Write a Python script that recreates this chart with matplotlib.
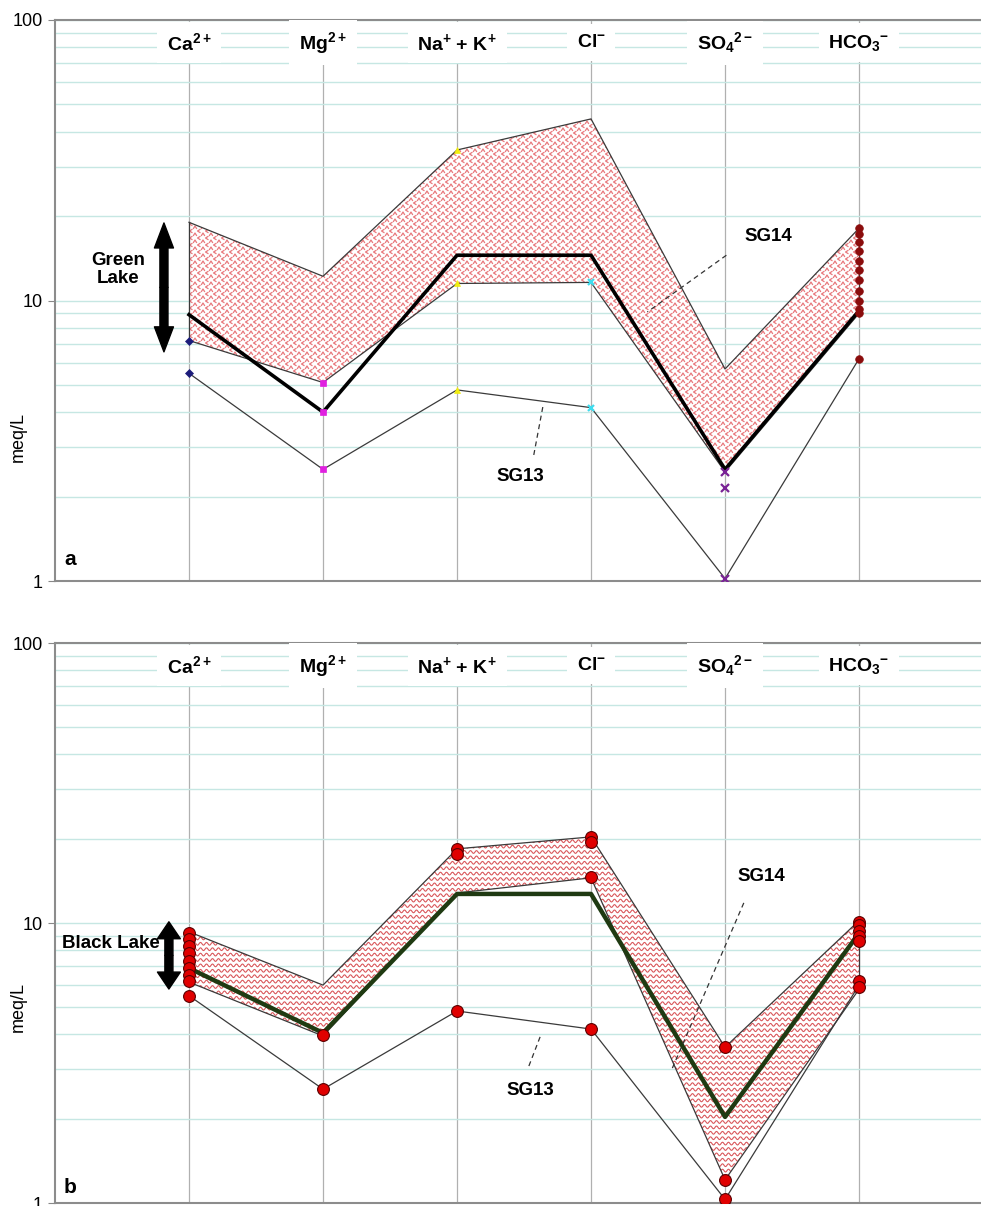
import numpy as np
import matplotlib
matplotlib.use('Agg')
import matplotlib.pyplot as plt
from matplotlib.patches import Polygon
from matplotlib.collections import LineCollection
from matplotlib.ticker import NullFormatter

plt.rcParams['font.family'] = ['Liberation Sans', 'DejaVu Sans']
plt.rcParams['mathtext.fontset'] = 'custom'
plt.rcParams['mathtext.rm'] = 'Liberation Sans'
plt.rcParams['mathtext.bf'] = 'Liberation Sans:bold'
plt.rcParams['mathtext.default'] = 'bf'

# ---- data (meq/L) ----
ions = ['Ca$^{2+}$', 'Mg$^{2+}$', 'Na$^{+}$ + K$^{+}$', 'Cl$^{-}$',
        'SO$_{4}$$^{2-}$', 'HCO$_{3}$$^{-}$']

# panel a : Green Lake
green_upper = [19.0, 12.2, 34.4, 44.4, 5.7, 18.1]
green_lower = [7.2, 5.1, 11.5, 11.6, 2.45, 9.0]
green_sg14 = [8.9, 4.0, 14.5, 14.5, 2.5, 9.2]
green_sg13 = [5.5, 2.5, 4.8, 4.15, 1.02, 6.2]
green_points = [
    [7.2, 5.5],
    [5.1, 4.0, 2.5],
    [34.4, 11.5, 4.8],
    [11.6, 4.15],
    [2.45, 2.15, 1.02],
    [18.1, 17.2, 16.2, 15.0, 13.8, 12.8, 11.8, 10.8, 10.0, 9.3, 9.0, 6.2],
]

# panel b : Black Lake
black_upper = [9.3, 6.0, 18.4, 20.3, 3.6, 10.2]
black_lower = [6.15, 3.95, 12.8, 14.5, 1.21, 5.8]
black_sg14 = [6.9, 4.05, 12.7, 12.7, 2.03, 9.2]
black_sg13 = [5.5, 2.55, 4.85, 4.18, 1.03, 6.0]
black_points = [
    [9.2, 8.8, 8.3, 7.8, 7.3, 6.9, 6.5, 6.2, 5.5],
    [3.98, 2.55],
    [18.4, 17.6, 4.85],
    [20.3, 19.4, 14.6, 4.18],
    [3.6, 1.21, 1.03],
    [10.1, 9.8, 9.4, 9.0, 8.6, 6.2, 5.9],
]

# excel style markers per ion for panel a
green_markers = ['D', 's', '^', 'x', 'x', 'o']
green_colors = ['#1c1c7a', '#e020e0', '#f2ee10', '#40dcee', '#7a2496', '#8a0c0c']
green_sizes = [4, 5, 4, 4, 6, 5.5]

x = np.arange(1, 7)

fig = plt.figure(figsize=(9.81, 12.06), dpi=100)
W, H = 981, 1206
ax_a = fig.add_axes([55 / W, 1 - 581 / H, 926 / W, 561 / H])
ax_b = fig.add_axes([55 / W, 1 - 1203 / H, 926 / W, 560 / H])


def setup(ax, ylab_y):
    ax.set_yscale('log')
    ax.set_ylim(1, 100)
    ax.set_xlim(0, 6.91)
    ax.set_xticks(x)
    ax.tick_params(axis='x', length=0, labelbottom=False)
    ax.set_yticks([1, 10, 100], ['1', '10', '100'])
    ax.yaxis.set_minor_formatter(NullFormatter())
    ax.tick_params(axis='y', which='major', length=5, color='#888888', labelsize=13, pad=4)
    ax.tick_params(axis='y', which='minor', length=0)
    ax.yaxis.grid(True, which='both', color='#c6e7e3', lw=1.0)
    ax.xaxis.grid(True, color='#b0b0b0', lw=0.9)
    ax.set_axisbelow(True)
    ax.spines['right'].set_visible(False)
    for s in ['top', 'left', 'bottom']:
        ax.spines[s].set_color('#8c8c8c')
        ax.spines[s].set_linewidth(1.5)
    ax.set_ylabel('meq/L', fontsize=13)
    ax.yaxis.set_label_coords(-0.03, ylab_y)
    for xi, lab in zip(x, ions):
        ax.text(xi, 83, lab, ha='center', va='center', fontsize=14, fontweight='bold',
                bbox=dict(boxstyle='square,pad=0.5', fc='white', ec='none'), zorder=6)


def envelope(ax, upper, lower):
    verts = list(zip(x, upper)) + list(zip(x[::-1], lower[::-1]))
    poly = Polygon(verts, closed=True, facecolor='white', edgecolor='none', zorder=2)
    ax.add_patch(poly)
    ax.plot(x, upper, color='#3a3a3a', lw=0.9, zorder=3)
    ax.plot(x, lower, color='#3a3a3a', lw=0.9, zorder=3)
    ax.plot([1, 1], [lower[0], upper[0]], color='#3a3a3a', lw=0.9, zorder=3)
    ax.plot([6, 6], [lower[-1], upper[-1]], color='#3a3a3a', lw=0.9, zorder=3)
    return poly


def range_arrow(ax, xa, ylo, yhi, hl, hw, tw):
    ymid = np.sqrt(ylo * yhi)
    style = 'simple,head_length=%g,head_width=%g,tail_width=%g' % (hl, hw, tw)
    for yend in (ylo, yhi):
        ax.annotate('', xy=(xa, yend), xytext=(xa, ymid),
                    arrowprops=dict(arrowstyle=style, color='black', shrinkA=0, shrinkB=0,
                                    mutation_scale=10), zorder=7)


def leader(ax, p0, p1):
    ax.plot([p0[0], p1[0]], [p0[1], p1[1]], ls=(0, (4, 3)), color='#333333', lw=0.9, zorder=6)


# ---------------- panel a ----------------
setup(ax_a, 0.257)
poly_a = envelope(ax_a, green_upper, green_lower)

# chevron texture, two staggered lattices of small '<' and '^' marks
for off, mk in [((0, 0), [(0.8, 1), (-0.8, 0), (0.8, -1)]),
                ((4, 3.5), [(-1, -0.8), (0, 0.8), (1, -0.8)])]:
    gx, gy = np.meshgrid(np.arange(off[0], 926, 8.0), np.arange(off[1], 561, 7.0))
    chev = ax_a.scatter(gx.ravel() / 926, gy.ravel() / 561, transform=ax_a.transAxes,
                        marker=mk, s=7, facecolors='none',
                        edgecolors='#e8787c', linewidths=0.9, zorder=2.5)
    chev.set_clip_path(poly_a)

ax_a.plot(x, green_sg14, color='black', lw=2.6, zorder=4)
ax_a.plot(x, green_sg13, color='#3a3a3a', lw=0.9, zorder=3)
for xi, vals, m, c, ms in zip(x, green_points, green_markers, green_colors, green_sizes):
    ax_a.plot([xi] * len(vals), vals, ls='none', marker=m, color=c, ms=ms,
              mew=1.6 if m == 'x' else 0.5, zorder=5)

range_arrow(ax_a, 0.813, 6.56, 18.9, 1.8, 1.37, 0.58)
ax_a.text(0.47, 12.9, 'Green\nLake', ha='center', va='center', fontsize=13.5,
          fontweight='bold', linespacing=1.15, zorder=7)
ax_a.text(5.32, 16.9, 'SG14', ha='center', va='center', fontsize=13.5, fontweight='bold', zorder=7)
leader(ax_a, (5.01, 14.5), (4.42, 9.1))
ax_a.text(3.47, 2.35, 'SG13', ha='center', va='center', fontsize=13.5, fontweight='bold', zorder=7)
leader(ax_a, (3.64, 4.17), (3.57, 2.77))
ax_a.text(0.11, 1.19, 'a', ha='center', va='center', fontsize=15, fontweight='bold', zorder=7)

# ---------------- panel b ----------------
setup(ax_b, 0.35)
poly_b = envelope(ax_b, black_upper, black_lower)

# wavy texture
segs = []
xs = np.arange(0, 927, 0.75)
wave = 1.4 * np.sin(2 * np.pi * xs / 6.0)
for y0 in np.arange(0, 561, 5.4):
    segs.append(np.column_stack([xs / 926, (y0 + wave) / 560]))
waves = LineCollection(segs, colors='#d9585c', linewidths=0.8, transform=ax_b.transAxes, zorder=2.5)
ax_b.add_collection(waves)
waves.set_clip_path(poly_b)

ax_b.plot(x, black_sg14, color='#1f3a12', lw=3.2, zorder=4)
ax_b.plot(x, black_sg13, color='#3a3a3a', lw=0.9, zorder=3)
for xi, vals in zip(x, black_points):
    ax_b.plot([xi] * len(vals), vals, ls='none', marker='o', ms=8.5, mfc='#e00000',
              mec='#5a0000', mew=0.8, zorder=5)

range_arrow(ax_b, 0.85, 5.81, 10.1, 1.22, 1.65, 0.58)
ax_b.text(0.78, 8.43, 'Black Lake', ha='right', va='center', fontsize=13.5,
          fontweight='bold', zorder=7)
ax_b.text(5.27, 14.6, 'SG14', ha='center', va='center', fontsize=13.5, fontweight='bold', zorder=7)
leader(ax_b, (5.14, 11.8), (4.60, 2.98))
ax_b.text(3.55, 2.53, 'SG13', ha='center', va='center', fontsize=13.5, fontweight='bold', zorder=7)
leader(ax_b, (3.62, 3.92), (3.53, 3.03))
ax_b.text(0.11, 1.14, 'b', ha='center', va='center', fontsize=15, fontweight='bold', zorder=7)

fig.savefig('out.png', dpi=100)
